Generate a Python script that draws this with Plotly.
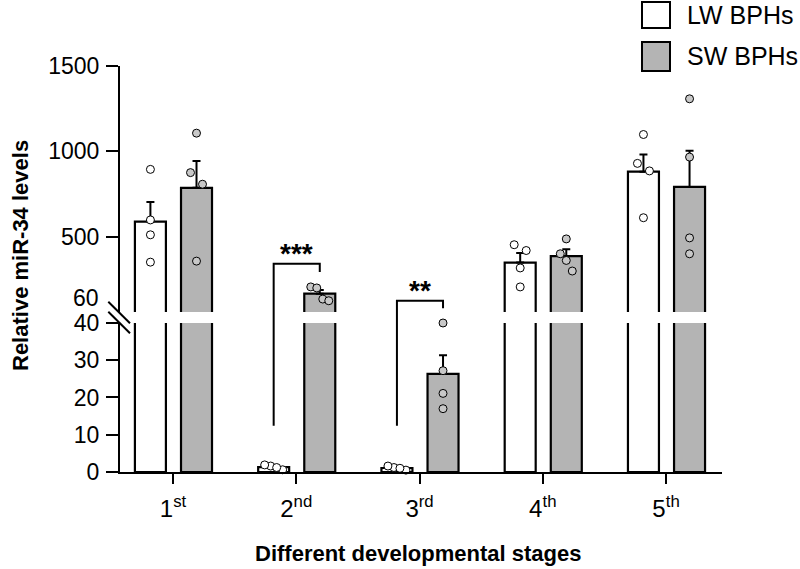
import numpy as np
import plotly.graph_objects as go

# ---------------- data ----------------
stages = ["1<sup>st</sup>", "2<sup>nd</sup>", "3<sup>rd</sup>", "4<sup>th</sup>", "5<sup>th</sup>"]
series_names = ["LW BPHs", "SW BPHs"]

lw_points = [
    [895, 599, 512, 352],
    [1.6, 0.6, 1.9, 1.2],
    [1.2, 0.5, 1.6, 1.0],
    [420, 454, 318, 207],
    [1099, 930, 886, 612],
]
sw_points = [
    [1107, 876, 808, 358],
    [207, 201, 136, 126],
    [40.0, 27.2, 21.1, 17.0],
    [488, 401, 362, 300],
    [1308, 967, 494, 401],
]
low_ticks = [0, 10, 20, 30, 40]
high_ticks = [500, 1000, 1500]
break_low, break_high = 40, 60
top_value = 1500
sig_labels = ["***", "**"]

# ---------------- styling / layout constants ----------------
W, H = 800, 569
ML, MR, MT, MB = 120, 78, 66, 97
PW, PH = W - ML - MR, H - MT - MB
D_LOW = [0, 0.367]
D_HIGH = [0.394, 1]
XR = [-0.43, 4.454]
BAR_W = 0.2515
OFF = [-0.309, 0.065]
CENT = [OFF[0] + BAR_W / 2, OFF[1] + BAR_W / 2]
FILL = ["#ffffff", "#b4b4b4"]
DOT_FILL = ["#ffffff", "#c8c8c8"]
FONT = "Arial, Liberation Sans, sans-serif"
BLACK = "#000000"

px_per_x = PW / (XR[1] - XR[0])


def paper_y(v):
    if v <= break_low:
        return D_LOW[0] + (v / break_low) * (D_LOW[1] - D_LOW[0])
    return D_HIGH[0] + (v - break_high) / (top_value - break_high) * (D_HIGH[1] - D_HIGH[0])


def jitter(vals, thr_px=12):
    h = [paper_y(v) * PH for v in vals]
    order = sorted(range(len(vals)), key=lambda i: -h[i])
    clusters, cur = [], [order[0]]
    for i in order[1:]:
        if h[cur[-1]] - h[i] < thr_px:
            cur.append(i)
        else:
            clusters.append(cur)
            cur = [i]
    clusters.append(cur)
    offs = [0.0] * len(vals)
    for c in clusters:
        n = len(c)
        spacing_px = 12 if n == 2 else 6
        for k, i in enumerate(c):
            offs[i] = (k - (n - 1) / 2) * spacing_px / px_per_x
    return offs


means = [[float(np.mean(p)) for p in lw_points], [float(np.mean(p)) for p in sw_points]]
sems = [[float(np.std(p, ddof=1) / np.sqrt(len(p))) for p in lw_points],
        [float(np.std(p, ddof=1) / np.sqrt(len(p))) for p in sw_points]]
groups = [lw_points, sw_points]
xs = list(range(len(stages)))

fig = go.Figure()

for yax in ["y", "y2"]:
    for s in range(2):
        fig.add_trace(go.Bar(
            x=xs, y=means[s], width=BAR_W, offset=OFF[s],
            marker=dict(color=FILL[s], line=dict(color=BLACK, width=2.2)),
            error_y=dict(type="data", symmetric=False, array=sems[s],
                         arrayminus=[0] * len(xs), color=BLACK, thickness=2, width=4),
            yaxis=yax, xaxis="x", showlegend=False, name=series_names[s],
        ))

for s in range(2):
    for yax, cond in [("y", lambda v: v <= break_low), ("y2", lambda v: v > break_low)]:
        dx, dy = [], []
        for i, pts in enumerate(groups[s]):
            offs = jitter(pts)
            for v, o in zip(pts, offs):
                if cond(v):
                    dx.append(i + CENT[s] + o)
                    dy.append(v)
        fig.add_trace(go.Scatter(
            x=dx, y=dy, mode="markers", yaxis=yax, xaxis="x", showlegend=False,
            cliponaxis=False,
            marker=dict(size=8, color=DOT_FILL[s], line=dict(color=BLACK, width=1)),
        ))

axis_common = dict(showline=True, linecolor=BLACK, linewidth=2, ticks="outside",
                   ticklen=12, tickwidth=2, tickcolor=BLACK, showgrid=False,
                   zeroline=False, automargin=False,
                   tickfont=dict(family=FONT, size=23, color=BLACK))

fig.update_layout(
    width=W, height=H, autosize=False,
    margin=dict(l=ML, r=MR, t=MT, b=MB),
    plot_bgcolor="white", paper_bgcolor="white",
    xaxis=dict(range=XR, tickvals=xs, ticktext=stages, anchor="y",
               showline=True, linecolor=BLACK, linewidth=2, ticks="outside",
               ticklen=10, tickwidth=2, tickcolor=BLACK, showgrid=False, zeroline=False,
               ticklabelstandoff=4, automargin=False,
               tickfont=dict(family=FONT, size=24, color=BLACK)),
    yaxis=dict(domain=D_LOW, range=[0, break_low], tickvals=low_ticks, anchor="x",
               ticklabelstandoff=2, **axis_common),
    yaxis2=dict(domain=D_HIGH, range=[break_high, top_value], tickvals=high_ticks,
                anchor="x", ticklabelstandoff=2, **axis_common),
)

shapes = []
ann = []


def pxy(py):
    return (H - MB - py) / PH


def pxx(px):
    return (px - ML) / PW


# axis break marks
for dy in (0, 10):
    shapes.append(dict(type="line", xref="paper", yref="paper",
                       x0=pxx(108.3), y0=pxy(301.7 + dy), x1=pxx(130), y1=pxy(323.3 + dy),
                       line=dict(color=BLACK, width=2)))
# label for the lower end of upper segment
ann.append(dict(text=str(break_high), xref="paper", yref="paper", x=pxx(101), y=pxy(298),
                xanchor="right", yanchor="middle", showarrow=False,
                font=dict(family=FONT, size=23, color=BLACK)))

# significance brackets (stage index, bracket top, right leg end)
brackets = [(1, 343, 294), (2, 126, 81.5)]
for (i, top, rend), lab in zip(brackets, sig_labels):
    xl, xr = i + CENT[0], i + CENT[1]
    yb = paper_y(12.4)
    yt = paper_y(top)
    yr = paper_y(rend)
    shapes.append(dict(type="path", xref="x", yref="paper",
                       path=f"M {xl},{yb} L {xl},{yt} L {xr},{yt} L {xr},{yr}",
                       line=dict(color=BLACK, width=2)))
    ann.append(dict(text=f"<b>{lab}</b>", xref="x", yref="paper", x=(xl + xr) / 2, y=yt,
                    xanchor="center", yanchor="bottom", yshift=-7, showarrow=False,
                    font=dict(family=FONT, size=28, color=BLACK)))

# axis titles
ann.append(dict(text="<b>Relative miR-34 levels</b>", xref="paper", yref="paper",
                x=pxx(20), y=pxy(256), textangle=-90, showarrow=False,
                xanchor="center", yanchor="middle",
                font=dict(family=FONT, size=22, color=BLACK)))
ann.append(dict(text="<b>Different developmental stages</b>", xref="paper", yref="paper",
                x=pxx(418), y=pxy(553), showarrow=False,
                xanchor="center", yanchor="middle",
                font=dict(family=FONT, size=22, color=BLACK)))

# legend
leg = [(2, 28), (42, 71)]
for s, (t, b) in enumerate(leg):
    shapes.append(dict(type="rect", xref="paper", yref="paper",
                       x0=pxx(642), x1=pxx(670), y0=pxy(b), y1=pxy(t),
                       fillcolor=FILL[s], line=dict(color=BLACK, width=2)))
    ann.append(dict(text=series_names[s], xref="paper", yref="paper",
                    x=pxx(685), y=pxy((t + b) / 2), xanchor="left", yanchor="middle",
                    showarrow=False, font=dict(family=FONT, size=25, color=BLACK)))

fig.update_layout(shapes=shapes, annotations=ann)
fig.write_html("out.html", config={"displayModeBar": False},
               post_script="document.body.style.margin='0';")
